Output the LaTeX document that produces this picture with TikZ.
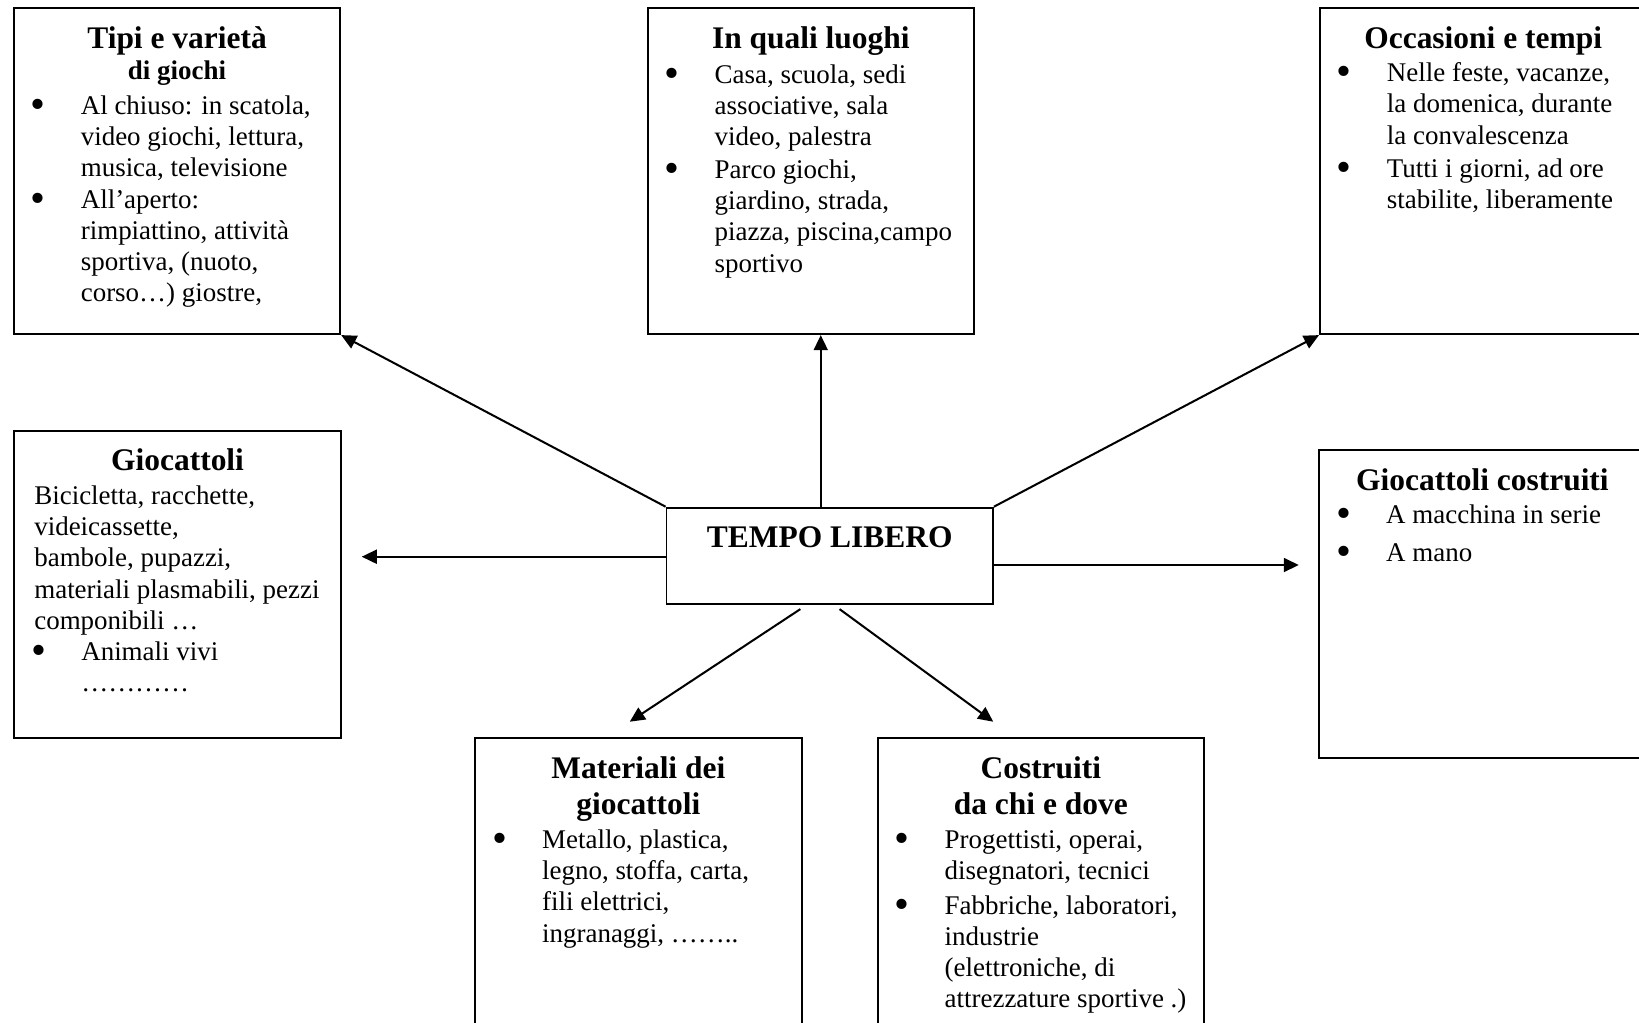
\documentclass[tikz,border=0pt]{standalone}
\usepackage{fontspec}
\setmainfont{Liberation Serif}
\usepackage{tikz}
\usepackage{xcolor}
\usetikzlibrary{calc}
\usetikzlibrary{arrows.meta}

\newlength{\pxu}
\setlength{\pxu}{0.445pt}
\newlength{\boxw}
\setlength{\boxw}{326.5\pxu}

\newcommand{\titolo}{\fontsize{14}{16.3}\selectfont\bfseries}
\newcommand{\corpo}{\fontsize{12}{13.9}\selectfont}
\newcommand{\itm}{\par\hangindent=67\pxu\hangafter=1\noindent\makebox[67\pxu][l]{\hspace{17\pxu}\smash{\raisebox{-1.8pt}{\fontsize{19}{19}\selectfont\textbullet}}}\ignorespaces}
\newcommand{\scheda}[3]{\vbox to #1{\hsize=\boxw\parindent=0pt\parskip=0pt
  {\centering\titolo\rule{0pt}{40\pxu}#2\par}
  \vspace{1pt}
  {\raggedright\corpo #3\par}\vfil}}

\begin{document}
\begin{tikzpicture}[x=0.445pt, y=-0.445pt]

\tikzset{
    box/.style = {
    draw,
    line width=0.8pt,
    inner sep=0pt,
    anchor=north west
    }
}

\tikzstyle{freccia}=[-{Triangle[length=6.7pt, width=6.2pt]}, line width=0.9pt]

\useasboundingbox (0,0) rectangle (1639,1022);

\node (tipi) [box] at (12.9,7.3) {\scheda{326\pxu}{Tipi e varietà\\[-2.5pt]{\fontsize{12}{14}\selectfont di giochi}}{%
\vspace{0.8pt}
\itm Al chiuso: in scatola,\newline video giochi, lettura,\newline musica, televisione
\itm All’aperto:\newline rimpiattino, attività\newline sportiva, (nuoto,\newline corso…) giostre,}};

\node (luoghi) [box] at (646.7,7.3) {\scheda{326\pxu}{In quali luoghi}{%
\vspace{0.8pt}
\itm Casa, scuola, sedi\newline associative, sala\newline video, palestra
\par\vspace{0.5pt}
\itm Parco giochi,\newline giardino, strada,\newline piazza, piscina,campo\newline sportivo}};

\node (occ) [box] at (1319,7.3) {\scheda{326\pxu}{Occasioni e tempi}{%
\itm Nelle feste, vacanze,\newline la domenica, durante\newline la convalescenza
\par\vspace{1pt}
\itm Tutti i giorni, ad ore\newline stabilite, liberamente}};

\node (gioc) [box] at (13.4,430) {\scheda{306.7\pxu}{Giocattoli}{%
{\leftskip=20\pxu Bicicletta, racchette,\newline videicassette,\newline bambole, pupazzi,\newline materiali plasmabili, pezzi\newline componibili …\par}
\itm Animali vivi\newline …………}};

\node (tempo) [box] at (665.6,506.7) {\scheda{96.3\pxu}{TEMPO LIBERO}{}};

\node (gcostr) [box] at (1318.3,449.3) {\scheda{307.4\pxu}{Giocattoli costruiti}{%
\itm A macchina in serie
\par\vspace{3pt}
\itm A mano}};

\node (mat) [box] at (474.2,737.3) {\scheda{307\pxu}{Materiali dei\\ giocattoli}{%
\itm Metallo, plastica,\newline legno, stoffa, carta,\newline fili elettrici,\newline ingranaggi, ……..}};

\node (costr) [box] at (876.7,737.3) {\scheda{307\pxu}{Costruiti\\ da chi e dove}{%
\itm Progettisti, operai,\newline disegnatori, tecnici
\par\vspace{1.5pt}
\itm Fabbriche, laboratori,\newline industrie\newline (elettroniche, di\newline attrezzature sportive .)}};

\foreach \s/\t in {north west/tipi.south east, north east/occ.south west}{
    \draw[freccia] (tempo.\s) -- (\t);
}

\coordinate (su) at ($(tempo.north)+(-9,0)$);
\draw[freccia] (su) -- (su |- luoghi.south);

\coordinate (sx) at ($(tempo.north west)+(0,50)$);
\coordinate (ex) at ($(gioc.east)+(20,0)$);
\draw[freccia] (sx) -- (sx -| ex);

\coordinate (dx) at ($(tempo.north east)+(0,58.3)$);
\coordinate (ed) at ($(gcostr.west)+(-19.5,0)$);
\draw[freccia] (dx) -- (dx -| ed);

\draw[freccia] ($(tempo.south)+(-29.4,4.3)$) -- ($(mat.north)+(-8.6,-15.6)$);
\draw[freccia] ($(tempo.south)+(9.8,4.3)$) -- ($(costr.north)+(-47.6,-15.6)$);

\end{tikzpicture}
\end{document}
